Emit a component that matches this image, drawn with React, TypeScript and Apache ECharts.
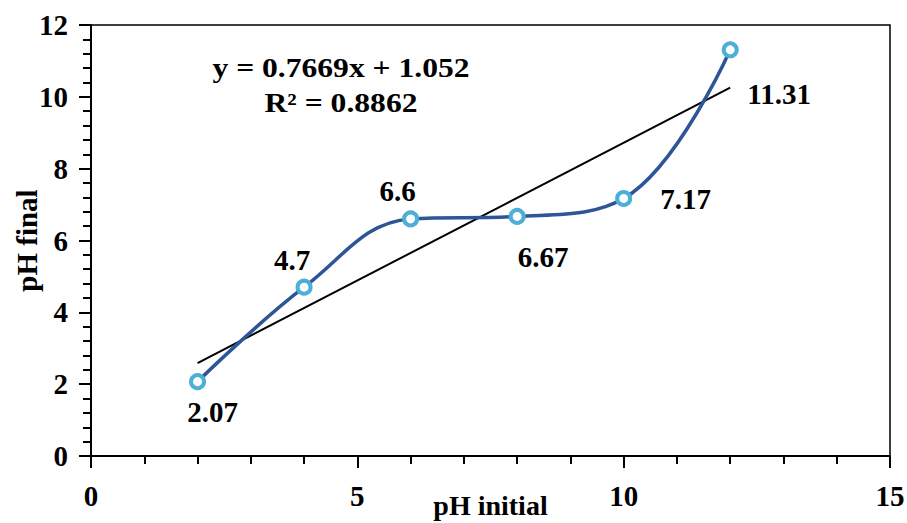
import React, { useEffect, useRef } from "react";
import * as echarts from "echarts";

const phInitial = [2, 4, 6, 8, 10, 12];
const phFinal = [2.07, 4.7, 6.6, 6.67, 7.17, 11.31];
const pointLabels = ["2.07", "4.7", "6.6", "6.67", "7.17", "11.31"];
const trendSlope = [0.7669];
const trendIntercept = [1.052];
const trendRange = [2, 12];
const equationLines = ["y = 0.7669x + 1.052", "R² = 0.8862"];

const labelOffsets: number[][] = [
  [15, 30],
  [-12, -27],
  [-13, -28],
  [26, 41],
  [62, 1],
  [49, 44],
];

const FONT = "'Liberation Serif', 'Times New Roman', serif";

export default function App() {
  const ref = useRef<HTMLDivElement>(null);
  useEffect(() => {
    if (!ref.current) return;
    const chart = echarts.init(ref.current, undefined, { renderer: "svg" });
    const trendData = trendRange.map((x) => [x, trendSlope[0] * x + trendIntercept[0]]);
    chart.setOption({
      animation: false,
      backgroundColor: "#ffffff",
      grid: {
        left: 91,
        top: 25,
        right: 17,
        bottom: 67,
        containLabel: false,
        outerBoundsMode: "none",
        show: true,
        borderColor: "#000",
        borderWidth: 1.5,
        backgroundColor: "transparent",
      },
      xAxis: {
        type: "value",
        min: 0,
        max: 15,
        interval: 5,
        name: "pH initial",
        nameLocation: "middle",
        nameGap: 35,
        nameMoveOverlap: false,
        nameTextStyle: { fontFamily: FONT, fontWeight: "bold", fontSize: 28, color: "#000" },
        axisLine: { show: true, onZero: false, lineStyle: { color: "#000", width: 2 } },
        axisTick: { show: true, length: 12, lineStyle: { color: "#000", width: 2 } },
        minorTick: { show: true, splitNumber: 5, length: 8, lineStyle: { color: "#000", width: 2 } },
        splitLine: { show: false },
        axisLabel: { margin: 25, fontFamily: FONT, fontWeight: "bold", fontSize: 29, color: "#000" },
      },
      yAxis: {
        type: "value",
        min: 0,
        max: 12,
        interval: 2,
        name: "pH final",
        nameLocation: "middle",
        nameGap: 50,
        nameRotate: 90,
        nameMoveOverlap: false,
        nameTextStyle: { fontFamily: FONT, fontWeight: "bold", fontSize: 29, color: "#000" },
        axisLine: { show: true, onZero: false, lineStyle: { color: "#000", width: 2 } },
        axisTick: { show: true, length: 12, lineStyle: { color: "#000", width: 2 } },
        minorTick: { show: true, splitNumber: 5, length: 8, lineStyle: { color: "#000", width: 2 } },
        splitLine: { show: false },
        axisLabel: { margin: 23, fontFamily: FONT, fontWeight: "bold", fontSize: 29, color: "#000" },
      },
      series: [
        {
          type: "line",
          data: trendData,
          showSymbol: false,
          symbol: "none",
          lineStyle: { color: "#000", width: 2 },
          z: 2,
          silent: true,
        },
        {
          type: "line",
          smooth: 0.4,
          data: phInitial.map((x, i) => ({
            value: [x, phFinal[i]],
            label: {
              show: true,
              formatter: pointLabels[i],
              position: "inside",
              align: "center",
              verticalAlign: "middle",
              offset: labelOffsets[i],
            },
          })),
          symbol: "circle",
          symbolSize: 13,
          showAllSymbol: true,
          itemStyle: { color: "#ffffff", borderColor: "#4BAFD8", borderWidth: 4 },
          lineStyle: { color: "#2E5597", width: 3.5 },
          label: {
            fontFamily: FONT,
            fontWeight: "bold",
            fontSize: 29,
            color: "#000",
          },
          z: 3,
        },
      ],
      graphic: [
        {
          type: "text",
          x: 341,
          y: 68,
          scaleX: 1.17,
          style: {
            text: equationLines[0],
            fontFamily: FONT,
            fontWeight: "bold",
            fontSize: 27,
            fill: "#000",
            align: "center",
            verticalAlign: "middle",
          },
        },
        {
          type: "text",
          x: 341,
          y: 103,
          scaleX: 1.17,
          style: {
            text: equationLines[1],
            fontFamily: FONT,
            fontWeight: "bold",
            fontSize: 27,
            fill: "#000",
            align: "center",
            verticalAlign: "middle",
          },
        },
      ],
    });
    return () => chart.dispose();
  }, []);
  return <div ref={ref} style={{ width: 907, height: 523, position: "absolute", left: 0, top: 0 }} />;
}
